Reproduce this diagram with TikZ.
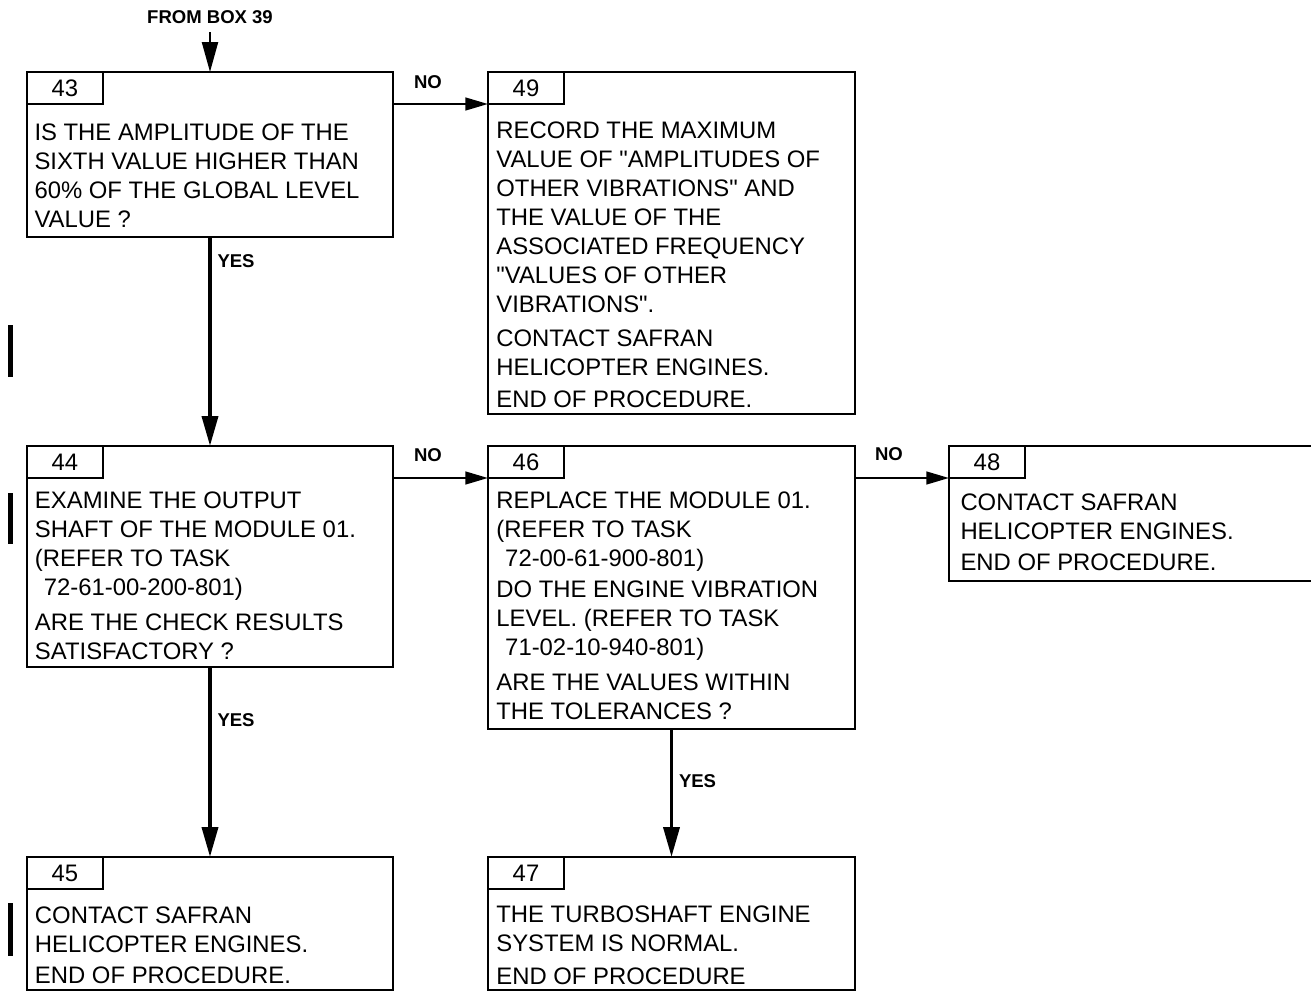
\documentclass[tikz,border=0pt]{standalone}
\usepackage{fontspec}
\setmainfont{Liberation Sans}[Ligatures=TeXOff]
\usetikzlibrary{arrows.meta}
\begin{document}
\begin{tikzpicture}[x=0.75pt,y=-0.75pt,
  box/.style={draw, line width=1.8pt, inner sep=0pt, outer sep=0pt, rectangle},
  tab/.style={draw, line width=1.8pt, inner sep=0pt, outer sep=0pt, anchor=north west,
    minimum width=76*0.75pt, minimum height=32*0.75pt, font=\fontsize{17.9}{21.75}\selectfont},
  body/.style={anchor=north west, inner sep=0pt, outer sep=0pt, align=left,
    font=\fontsize{17.9}{21.75}\selectfont},
  lbl/.style={font=\fontsize{13.9}{16}\selectfont\bfseries, inner sep=0pt, outer sep=0pt},
  yesarrow/.style={line width=2.8pt, -{Triangle[length=22.5pt,width=12pt]}},
  fromarrow/.style={line width=1.7pt, -{Triangle[length=22.5pt,width=12pt]}},
  noarrow/.style={line width=1.8pt, -{Triangle[length=17pt,width=9.5pt]}},
]
\useasboundingbox (0,0) rectangle (1311,992);

% boxes
\node[box, minimum width=366*0.75pt, minimum height=165*0.75pt] (b43) at (210,154.5) {};
\node[box, minimum width=367*0.75pt, minimum height=342*0.75pt] (b49) at (671.5,243) {};
\node[box, minimum width=366*0.75pt, minimum height=221*0.75pt] (b44) at (210,556.5) {};
\node[box, minimum width=367*0.75pt, minimum height=283*0.75pt] (b46) at (671.5,587.5) {};
\node[box, minimum width=381*0.75pt, minimum height=135*0.75pt] (b48) at (1139.5,513.5) {};
\node[box, minimum width=366*0.75pt, minimum height=133*0.75pt] (b45) at (210,923.5) {};
\node[box, minimum width=367*0.75pt, minimum height=133*0.75pt] (b47) at (671.5,923.5) {};

% number tabs
\node[tab] (t43) at (b43.north west) {43};
\node[tab] (t49) at (b49.north west) {49};
\node[tab] (t44) at (b44.north west) {44};
\node[tab] (t46) at (b46.north west) {46};
\node[tab] (t48) at (b48.north west) {48};
\node[tab] (t45) at (b45.north west) {45};
\node[tab] (t47) at (b47.north west) {47};

% texts
\node[body] (x43) at (34.5,120.5) {\strut IS THE AMPLITUDE OF THE\\SIXTH VALUE HIGHER THAN\\60\% OF THE GLOBAL LEVEL\\VALUE ?};
\node[body] (x49) at (496.4,118.5) {\strut RECORD THE MAXIMUM\\VALUE OF "AMPLITUDES OF\\OTHER VIBRATIONS" AND\\THE VALUE OF THE\\ASSOCIATED FREQUENCY\\"VALUES OF OTHER\\VIBRATIONS".\\[3.5pt]CONTACT SAFRAN\\HELICOPTER ENGINES.\\[2.5pt]END OF PROCEDURE.};
\node[body] (x44) at (35,487.8) {\strut EXAMINE THE OUTPUT\\SHAFT OF THE MODULE 01.\\(REFER TO TASK\\\hspace*{0.37em}72-61-00-200-801)\\[4.5pt]ARE THE CHECK RESULTS\\SATISFACTORY ?};
\node[body] (x46) at (496.4,488.5) {\strut REPLACE THE MODULE 01.\\(REFER TO TASK\\\hspace*{0.37em}72-00-61-900-801)\\[1.5pt]DO THE ENGINE VIBRATION\\LEVEL. (REFER TO TASK\\\hspace*{0.37em}71-02-10-940-801)\\[4.5pt]ARE THE VALUES WITHIN\\THE TOLERANCES ?};
\node[body] (x48) at (960.5,489.8) {\strut CONTACT SAFRAN\\HELICOPTER ENGINES.\\[1.5pt]END OF PROCEDURE.};
\node[body] (x45) at (35,902.8) {\strut CONTACT SAFRAN\\HELICOPTER ENGINES.\\[2pt]END OF PROCEDURE.};
\node[body] (x47) at (496.4,901.8) {\strut THE TURBOSHAFT ENGINE\\SYSTEM IS NORMAL.\\[3pt]END OF PROCEDURE};

% labels
\node[lbl, anchor=base] (from) at (210,23) {FROM BOX 39};
\node[lbl, anchor=base] (no1) at (428,88) {NO};
\node[lbl, anchor=base] (no2) at (428,461) {NO};
\node[lbl, anchor=base] (no3) at (889,460) {NO};
\node[lbl, anchor=base west] (yes1) at (217.5,267) {YES};
\node[lbl, anchor=base west] (yes2) at (217.5,726) {YES};
\node[lbl, anchor=base west] (yes3) at (679,787) {YES};

% connectors
\coordinate (f0) at (210,32);
\draw[fromarrow] (f0) -- (b43.north);
\draw[yesarrow] (b43.south) -- (b44.north);
\draw[yesarrow] (b44.south) -- (b45.north);
\draw[yesarrow] (b46.south) -- (b47.north);
\draw[noarrow] (t43.south -| b43.east) -- (t49.south west);
\draw[noarrow] (t44.south -| b44.east) -- (t46.south west);
\draw[noarrow] (t46.south -| b46.east) -- (t48.south west);

% change bars
\fill (8,325) rectangle (13,377);
\fill (8,493) rectangle (13,544);
\fill (8,903) rectangle (13,956);
\end{tikzpicture}
\end{document}
